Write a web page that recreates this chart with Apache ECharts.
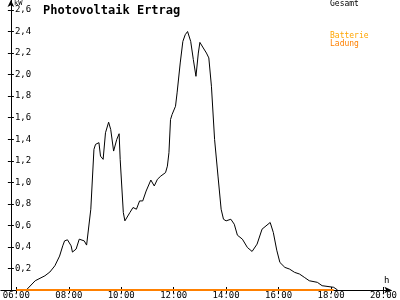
<!DOCTYPE html>
<html>
<head>
<meta charset="utf-8">
<script src="https://cdn.jsdelivr.net/npm/echarts@6/dist/echarts.min.js"></script>
<style>html,body{margin:0;padding:0;background:#fff}#c{width:400px;height:300px}</style>
</head>
<body>
<div id="c"></div>
<script>
// Time of day in decimal hours
var times = [6.38,6.72,7.09,7.28,7.47,7.65,7.77,7.84,7.95,8.09,8.14,8.28,8.40,8.46,8.59,8.68,8.84,8.96,9.02,9.15,9.21,9.31,9.40,9.52,9.60,9.71,9.83,9.92,9.96,10.08,10.14,10.20,10.33,10.45,10.58,10.70,10.82,10.95,11.13,11.26,11.38,11.51,11.69,11.76,11.82,11.88,11.94,12.07,12.13,12.25,12.35,12.44,12.53,12.65,12.75,12.85,12.94,13.00,13.13,13.25,13.34,13.44,13.56,13.69,13.81,13.90,14.00,14.18,14.31,14.43,14.62,14.81,14.99,15.18,15.37,15.68,15.80,15.93,16.05,16.24,16.42,16.61,16.80,16.98,17.17,17.48,17.66,18.10,18.25];
// Gesamt power in kW
var gesamt = [0,0.086,0.132,0.167,0.225,0.315,0.41,0.456,0.466,0.41,0.352,0.38,0.472,0.48,0.456,0.417,0.75,1.306,1.352,1.368,1.243,1.213,1.46,1.558,1.49,1.29,1.398,1.451,1.213,0.719,0.642,0.627,0.719,0.766,0.75,0.827,0.827,0.919,1.021,0.966,1.028,1.058,1.09,1.15,1.275,1.583,1.63,1.706,1.83,2.108,2.308,2.37,2.40,2.308,2.139,1.984,2.20,2.299,2.247,2.20,2.155,1.892,1.398,1.058,0.75,0.657,0.642,0.657,0.611,0.509,0.472,0.395,0.358,0.426,0.565,0.627,0.534,0.37,0.256,0.21,0.194,0.164,0.148,0.118,0.086,0.071,0.04,0.025,0];
// Batterie Ladung (kW)
var ladungTimes = [6.0, 18.10];
var ladung = [0, 0];
// Tick labels
var xTicks = [6, 8, 10, 12, 14, 16, 18, 20];
var yTicks = [0.2,0.4,0.6,0.8,1.0,1.2,1.4,1.6,1.8,2.0,2.2,2.4,2.6];

var mono = 'DejaVu Sans Mono';
function hh(v){ var h = Math.round(v); return (h < 10 ? '0' : '') + h + ':00'; }
var gData = times.map(function(t,i){ return [t, gesamt[i]]; });
var lData = ladungTimes.map(function(t,i){ return [t, ladung[i]]; });

var chart = echarts.init(document.getElementById('c'));
var xMin = 5.411, xMax = 20.30, yMax = 2.6926;
chart.setOption({
  animation: false,
  title: { text: 'Photovoltaik Ertrag', left: 38, top: 0,
    textStyle: { fontFamily: mono, fontWeight: 'bold', fontSize: 12, color: '#000' } },
  grid: { left: 0, right: 3, top: 0, bottom: 9, containLabel: false },
  xAxis: [{
    type: 'value', position: 'bottom', min: xMin, max: xMax,
    axisLine: { onZero: false, lineStyle: { color: '#000', width: 1 }, symbol: ['none','arrow'], symbolSize: [5,7] },
    axisTick: { show: true, customValues: xTicks, length: 3, lineStyle: { color: '#000' } },
    axisLabel: { customValues: xTicks, formatter: hh, margin: 1, fontFamily: mono, fontSize: 9, color: '#000', showMaxLabel: true },
    splitLine: { show: false }
  },{
    type: 'value', position: 'bottom', min: xMin, max: xMax,
    axisLine: { show: false },
    axisTick: { show: true, inside: true, customValues: xTicks, length: 3, lineStyle: { color: '#000' } },
    axisLabel: { show: false }, splitLine: { show: false }
  }],
  yAxis: [{
    type: 'value', position: 'left', offset: -10, min: 0, max: yMax,
    axisLine: { show: true, onZero: false, lineStyle: { color: '#000', width: 1 }, symbol: ['none','arrow'], symbolSize: [5,7] },
    axisTick: { show: true, inside: true, customValues: yTicks, length: 3, lineStyle: { color: '#000' } },
    axisLabel: { inside: true, customValues: yTicks, margin: 4, fontFamily: mono, fontSize: 9, color: '#000',
      formatter: function(v){ return v.toFixed(1).replace('.', ','); } },
    splitLine: { show: false }
  },{
    type: 'value', position: 'left', offset: -10, min: 0, max: yMax,
    axisLine: { show: false },
    axisTick: { show: true, customValues: yTicks, length: 3, lineStyle: { color: '#000' } },
    axisLabel: { show: false }, splitLine: { show: false }
  }],
  graphic: [
    { type: 'text', left: 14, top: 0, style: { text: 'kW', font: '7px ' + mono, fill: '#000' } },
    { type: 'text', left: 384, top: 276, style: { text: 'h', font: '9px ' + mono, fill: '#000' } },
    { type: 'text', left: 330, top: 0, style: { text: 'Gesamt', font: '8px ' + mono, fill: '#000' } },
    { type: 'text', left: 330, top: 32, style: { text: 'Batterie', font: '8px ' + mono, fill: '#ffa500' } },
    { type: 'text', left: 330, top: 40, style: { text: 'Ladung', font: '8px ' + mono, fill: '#ff8000' } }
  ],
  series: [{
    name: 'Gesamt', type: 'line', xAxisIndex: 0, yAxisIndex: 0, data: gData,
    showSymbol: false, symbol: 'none', lineStyle: { color: '#000', width: 1 }, itemStyle: { color: '#000' }
  },{
    name: 'Batterie Ladung', type: 'line', xAxisIndex: 0, yAxisIndex: 0, data: lData,
    showSymbol: false, symbol: 'none', lineStyle: { color: '#ff8000', width: 2 }, itemStyle: { color: '#ff8000' }, z: 5
  }]
});
</script>
</body>
</html>
